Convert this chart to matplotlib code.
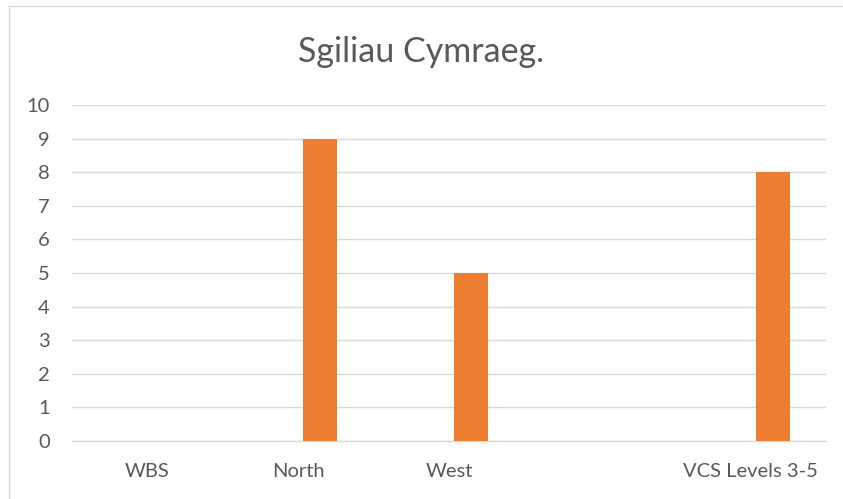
import matplotlib
matplotlib.use("Agg")
import matplotlib.pyplot as plt
import numpy as np
from matplotlib.lines import Line2D

categories = ["WBS", "North", "West", "", "VCS Levels 3-5"]
values = [0, 9, 5, 0, 8]
yticks = [0, 1, 2, 3, 4, 5, 6, 7, 8, 9, 10]
title = "Sgiliau Cymraeg."

plt.rcParams['font.family'] = ['Lato', 'DejaVu Sans']
W, H = 843, 499
fig = plt.figure(figsize=(W / 100, H / 100), dpi=100)
ax = fig.add_axes([72 / W, 1 - 441 / H, (826 - 72) / W, (441 - 105) / H])

x = np.arange(len(categories))
ax.bar(x + 0.147, values, width=0.225, color="#ED7D31", linewidth=0, zorder=3)

ax.set_xlim(-0.5, len(categories) - 0.5)
ax.set_ylim(0, 10)
ax.set_yticks(yticks)
ax.set_yticklabels([str(t) for t in yticks])
ax.set_xticks(x)
ax.set_xticklabels(categories)
ax.grid(axis="y", color="#d9d9d9", linewidth=1.0, zorder=0)
for s in ["top", "right", "left"]:
    ax.spines[s].set_visible(False)
ax.spines["bottom"].set_color("#d9d9d9")
ax.spines["bottom"].set_linewidth(1.0)
ax.tick_params(axis="both", length=0, colors="#595959", labelsize=14.5)
ax.tick_params(axis="y", pad=16)
ax.tick_params(axis="x", pad=16)

fig.text(0.5, 1 - 62 / H, title, ha="center", va="baseline", fontsize=24.5, color="#595959")

# outer chart border (top and left visible)
fig.add_artist(Line2D([8.5 / W, 8.5 / W], [0, 1 - 5.5 / H], transform=fig.transFigure, color="#d9d9d9", linewidth=1.0))
fig.add_artist(Line2D([8.5 / W, 1], [1 - 5.5 / H, 1 - 5.5 / H], transform=fig.transFigure, color="#d9d9d9", linewidth=1.0))

fig.savefig("out.png", dpi=100)
